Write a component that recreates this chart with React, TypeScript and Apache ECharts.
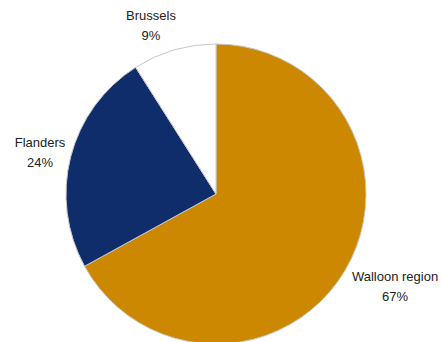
import React, { useEffect, useRef } from "react";
import * as echarts from "echarts";

const categories = ["Walloon region", "Flanders", "Brussels"];
const values = [67, 24, 9];
const colors = ["#CC8800", "#0F2D6B", "#FFFFFF"];
const labelPositions: [number, number][] = [
  [395, 286],
  [40, 152],
  [151, 25],
];

export default function App() {
  const ref = useRef<HTMLDivElement>(null);
  useEffect(() => {
    if (!ref.current) return;
    const chart = echarts.init(ref.current, null, { renderer: "svg" });
    chart.setOption({
      animation: false,
      backgroundColor: "#FFFFFF",
      series: [
        {
          type: "pie",
          center: [216, 194],
          radius: 150,
          startAngle: 90,
          clockwise: true,
          data: categories.map((name, i) => ({
            name,
            value: values[i],
            itemStyle: { color: colors[i] },
          })),
          itemStyle: { borderColor: "#C8C8C8", borderWidth: 1 },
          label: {
            show: true,
            position: "outside",
            alignTo: "none",
            overflow: "none",
            width: 200,
            formatter: (p: any) => `${p.name}\n${p.value}%`,
            color: "#222222",
            fontFamily: "'Liberation Sans Narrow', 'Arial Narrow', 'Liberation Sans', Arial, sans-serif",
            fontSize: 13,
            lineHeight: 20,
            align: "center",
          },
          labelLine: { show: false },
          labelLayout: (params: any) => {
            const pos = labelPositions[params.dataIndex];
            return { x: pos[0], y: pos[1], align: "center", verticalAlign: "middle" };
          },
          emphasis: { disabled: true },
        },
      ],
    });
    return () => chart.dispose();
  }, []);
  return (
    <div
      ref={ref}
      style={{ position: "fixed", left: 0, top: 0, width: 442, height: 342 }}
    />
  );
}
